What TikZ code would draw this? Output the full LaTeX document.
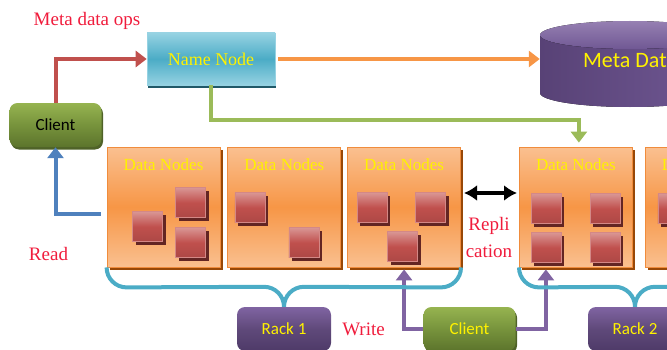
\documentclass[tikz,border=0pt]{standalone}
\usepackage{fontspec}
\setmainfont{Liberation Serif}
\newfontfamily\clfont{Carlito}
\usetikzlibrary{positioning,arrows.meta,calc,shadows}

\definecolor{lblred}{RGB}{240,28,60}
\definecolor{opsred}{RGB}{192,80,77}
\definecolor{mdorange}{RGB}{247,150,70}
\definecolor{dngreen}{RGB}{155,187,89}
\definecolor{rdblue}{RGB}{79,129,189}
\definecolor{brcblue}{RGB}{75,172,198}
\definecolor{wrpurple}{RGB}{128,100,162}
\definecolor{nnhi}{RGB}{150,210,226}
\definecolor{nnmid}{RGB}{75,172,198}
\definecolor{nnshade}{RGB}{33,89,104}
\definecolor{clhi}{RGB}{150,180,80}
\definecolor{clmid}{RGB}{119,147,60}
\definecolor{cldark}{RGB}{92,116,44}
\definecolor{clshade}{RGB}{79,98,40}
\definecolor{rkhi}{RGB}{128,100,162}
\definecolor{rkmid}{RGB}{95,73,122}
\definecolor{rkdark}{RGB}{78,58,104}
\definecolor{dnhi}{RGB}{250,192,144}
\definecolor{dnmid}{RGB}{247,150,70}
\definecolor{dnedge}{RGB}{240,140,60}
\definecolor{dnshade}{RGB}{152,72,7}
\definecolor{blkhi}{RGB}{217,150,148}
\definecolor{blkmid}{RGB}{192,80,77}
\definecolor{blkshade}{RGB}{99,37,35}
\definecolor{cyldark}{RGB}{88,66,118}
\definecolor{cylmid}{RGB}{112,88,148}
\definecolor{cyltop}{RGB}{150,128,178}

\begin{document}
\begin{tikzpicture}[x=1pt,y=1pt,
  lbl/.style={text=lblred,font=\fontsize{19}{27}\selectfont,inner sep=1pt},
  nnbox/.style={draw=nnhi,line width=0.6pt,top color=nnhi,bottom color=nnhi,middle color=nnmid,
    minimum width=128pt,minimum height=52pt,text=yellow,font=\fontsize{18}{20}\selectfont,
    general shadow={fill=nnshade,shadow xshift=1pt,shadow yshift=-3pt}},
  clbox/.style={rounded corners=8pt,top color=clhi,bottom color=cldark,middle color=clmid,
    minimum width=92pt,minimum height=44pt,font=\clfont\fontsize{17}{19}\selectfont,
    general shadow={fill=clshade,shadow xshift=1.5pt,shadow yshift=-2.5pt}},
  rkbox/.style={rounded corners=8pt,top color=rkhi,bottom color=rkdark,middle color=rkmid,
    minimum width=94pt,minimum height=44pt,text=yellow,font=\clfont\fontsize{17}{19}\selectfont},
  dnbox/.style={draw=dnedge,line width=0.8pt,top color=dnhi,bottom color=dnhi,middle color=dnmid,
    minimum width=113pt,minimum height=120pt,inner sep=0pt,
    general shadow={fill=dnshade,shadow xshift=2.5pt,shadow yshift=-2.5pt}},
  dntitle/.style={text=yellow,font=\fontsize{17}{19}\selectfont,inner sep=1pt},
  blk/.style={draw=blkhi!80!blkmid,line width=0.6pt,top color=blkhi,bottom color=blkmid!90!black,middle color=blkmid,
    minimum width=30pt,minimum height=30pt,inner sep=0pt,
    general shadow={fill=blkshade,shadow xshift=3pt,shadow yshift=-3pt}},
  arr/.style={line width=4pt,-{Triangle[length=11pt,width=16pt]}},
  brc/.style={draw=brcblue,line width=4pt}]

\useasboundingbox (0,0) rectangle (667,349);
\clip (0,0) rectangle (667,349);

% meta data store
\fill[left color=cyldark,right color=cylmid] (540,314) -- (540,256)
  arc[start angle=180,end angle=360,x radius=90,y radius=14] -- (720,314) -- cycle;
\fill[top color=cyltop,bottom color=cylmid] (630,314) ellipse[x radius=90,y radius=14];
\node (meta) [minimum width=180pt,minimum height=58pt,text=yellow,font=\clfont\fontsize{22}{24}\selectfont] at (630,288) {Meta Data};

\node (nn) [nnbox] at (211,290) {Name Node};
\node (cl1) [clbox,text=black] at (55.5,224) {Client};
\node (mops) [lbl] at (87,328) {Meta data ops};

% data nodes
\node (dn1) [dnbox] at (163.5,142) {};
\node (dn2) [dnbox,right=7pt of dn1] {};
\node (dn3) [dnbox,right=6pt of dn2] {};
\node (dn4) [dnbox,right=58pt of dn3] {};
\node (dn5) [dnbox,right=12pt of dn4] {};
\foreach \b in {dn1,dn2,dn3,dn4,dn5}
  \node (\b t) [dntitle,below=11pt of \b.north] {Data Nodes};
\foreach \b/\x/\y [count=\i] in {dn1/41/-80,dn1/84/-56,dn1/84/-96,dn2/22.5/-61,dn2/76.5/-96,
    dn3/25/-61,dn3/83.5/-61,dn3/55.5/-100,dn4/27/-62,dn4/86/-62,dn4/27/-101,dn4/86/-101,dn5/28/-62}
  \node (blk\i) [blk] at ([shift={(\x,\y)}]\b.north west) {};

\node (rk1) [rkbox] at (284,20) {Rack 1};
\node (cl2) [clbox,text=yellow] at (469.5,20) {Client};
\node (rk2) [rkbox] at (635,20) {Rack 2};

\node (rd) [lbl] at (48.5,95) {Read};
\node (wr) [lbl] at (363.5,20) {Write};
\node (repl) [lbl,align=center] at (489,112) {Repli\\cation};

% connectors
\draw[arr,opsred] (cl1.north) |- (nn.west);
\draw[arr,mdorange,shorten <=3pt] (nn.east) -- (nn.east -| meta.west);
\draw[arr,dngreen,shorten >=4pt] (nn.south) |- ($(dn4.north)+(3,27)$) -- ([xshift=3pt]dn4.north);
\draw[arr,rdblue] ([shift={(-6pt,-7pt)}]dn1.west) -| (cl1.south);
\draw[line width=3.5pt,{Latex[length=13pt,width=16pt]}-{Latex[length=13pt,width=16pt]},shorten <=3pt,shorten >=2pt]
  ([yshift=14pt]dn3.east) -- ([yshift=14pt]dn4.west);
\draw[arr,wrpurple,shorten >=2pt] (cl2.west) -| (dn3.south);
\draw[arr,wrpurple,shorten >=2pt] (cl2.east) -| ([xshift=-30pt]dn4.south);

% racks
\draw[brc] (dn1.south west) to[out=-90,in=180] ++(20,-20) -- ($(rk1.north)+(-20,20)$) to[out=0,in=90] (rk1.north);
\draw[brc] (dn3.south east) to[out=-90,in=0] ++(-20,-20) -- ($(rk1.north)+(20,20)$) to[out=180,in=90] (rk1.north);
\draw[brc] (dn4.south west) to[out=-90,in=180] ++(20,-20) -- ($(rk2.north)+(-20,20)$) to[out=0,in=90] (rk2.north);
\draw[brc] (rk2.north) to[out=90,in=180] ++(20,20) -- ++(60,0);
\end{tikzpicture}
\end{document}
